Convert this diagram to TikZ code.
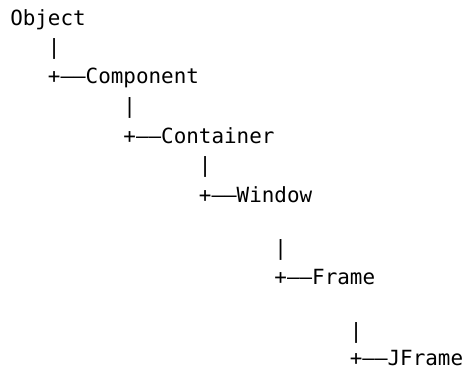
\documentclass[tikz,border=0pt]{standalone}
\usepackage{fontspec}
\setmonofont{DejaVu Sans Mono}
\begin{document}
\begin{tikzpicture}[x=1pt,y=1pt,
  textline/.style={anchor=base west, inner sep=0pt, outer sep=0pt,
    font=\ttfamily\fontsize{20.9}{25}\selectfont, text=black}]
\useasboundingbox (0,0) rectangle (465,370);
\def\cw{12.58}
\def\xo{10.25}
\node[textline] (object)    at ({\xo+0*\cw},  {370-26})  {Object};
\node[textline] (bar1)      at ({\xo+3*\cw},  {370-55})  {|};
\node[textline] (component) at ({\xo+3*\cw},  {370-84})  {+––Component};
\node[textline] (bar2)      at ({\xo+9*\cw},  {370-114}) {|};
\node[textline] (container) at ({\xo+9*\cw},  {370-143}) {+––Container};
\node[textline] (bar3)      at ({\xo+15*\cw}, {370-172}) {|};
\node[textline] (window)    at ({\xo+15*\cw}, {370-202}) {+––Window};
\node[textline] (bar4)      at ({\xo+21*\cw}, {370-255}) {|};
\node[textline] (frame)     at ({\xo+21*\cw}, {370-284}) {+––Frame};
\node[textline] (bar5)      at ({\xo+27*\cw}, {370-338}) {|};
\node[textline] (jframe)    at ({\xo+27*\cw}, {370-365}) {+––JFrame};
\end{tikzpicture}
\end{document}
